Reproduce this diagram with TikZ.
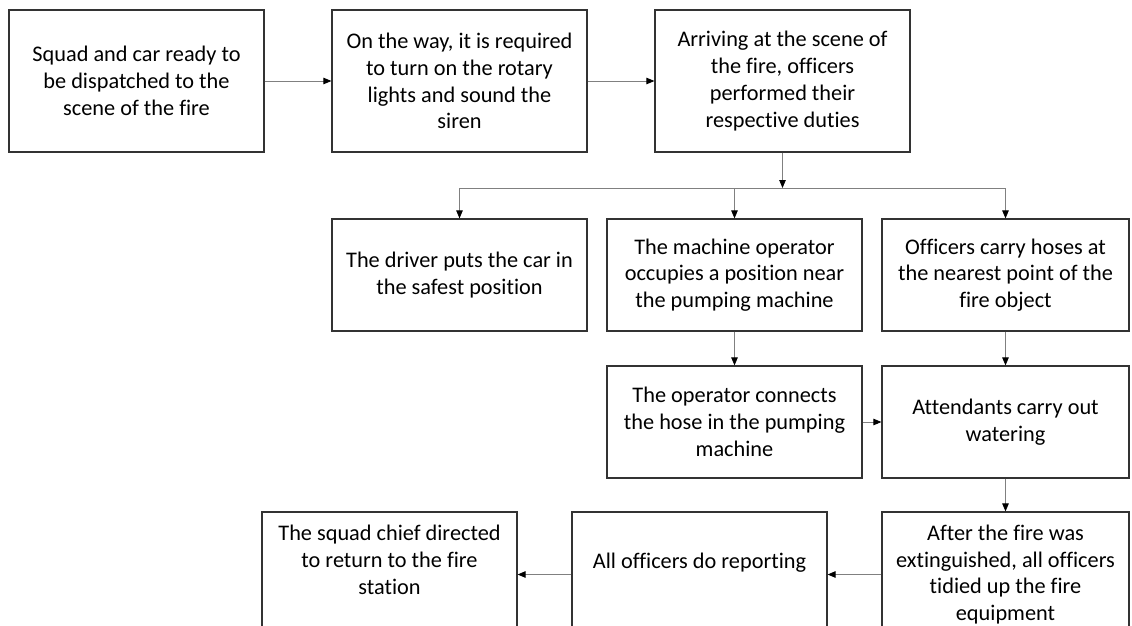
\documentclass[tikz,border=0pt]{standalone}
\usepackage{fontspec}
\setmainfont{Carlito}[Ligatures=NoCommon]
\usetikzlibrary{arrows.meta, positioning}

\tikzset{
  box/.style={draw=black!80, line width=1.2pt, minimum width=255pt, minimum height=112pt,
    inner sep=0pt, align=center, font=\fontsize{22.3}{26.8}\selectfont},
  flow/.style={draw=black!50, line width=0.9pt, -{Triangle[length=8pt, width=6.5pt, black]}},
  link/.style={draw=black!50, line width=0.9pt},
}

\begin{document}
\begin{tikzpicture}[x=1pt, y=-1pt]
\useasboundingbox (0,0) rectangle (1132,626);
\clip (0,0) rectangle (1132,626);

%Row 1
\node[box, minimum height=142pt] (ready) at (136.5,81) {Squad and car ready to\\be dispatched to the\\scene of the fire};
\node[box, minimum height=142pt] (way) at (459.5,81) {On the way, it is required\\to turn on the rotary\\lights and sound the\\siren};
\node[box, minimum height=142pt] (arrive) at (782.5,81) {Arriving at the scene of\\the fire, officers\\performed their\\respective duties};

%Row 2
\node[box] (driver) at (459.5,275) {The driver puts the car in\\the safest position};
\node[box] (machine) at (734.5,275) {The machine operator\\occupies a position near\\the pumping machine};
\node[box, minimum width=247pt] (hoses) at (1005.5,275) {Officers carry hoses at\\the nearest point of the\\fire object};

%Row 3
\node[box] (operator) at (734.5,422) {The operator connects\\the hose in the pumping\\machine};
\node[box, minimum width=247pt] (attend) at (1005.5,422) {Attendants carry out\\watering};

%Row 4
\node[box, minimum height=125pt, text depth=30pt] (chief) at (389.5,574.5) {The squad chief directed\\to return to the fire\\station};
\node[box, minimum height=125pt, text depth=27pt] (report) at (699.5,574.5) {All officers do reporting};
\node[box, minimum height=125pt, minimum width=247pt] (after) at (1005.5,574.5) {After the fire was\\extinguished, all officers\\tidied up the fire\\equipment};

%Connectors
\draw[flow] (ready) -- (way);
\draw[flow] (way) -- (arrive);
\coordinate (split) at (782.5,188);
\draw[flow] (arrive) -- (split);
\draw[link] (driver.north |- split) -- (hoses.north |- split);
\draw[flow] (driver.north |- split) -- (driver);
\draw[flow] (machine.north |- split) -- (machine);
\draw[flow] (hoses.north |- split) -- (hoses);
\draw[flow] (machine) -- (operator);
\draw[flow] (hoses) -- (attend);
\draw[flow] (operator) -- (attend);
\draw[flow] (attend) -- (after);
\draw[flow] (after) -- (report);
\draw[flow] (report) -- (chief);
\end{tikzpicture}
\end{document}
